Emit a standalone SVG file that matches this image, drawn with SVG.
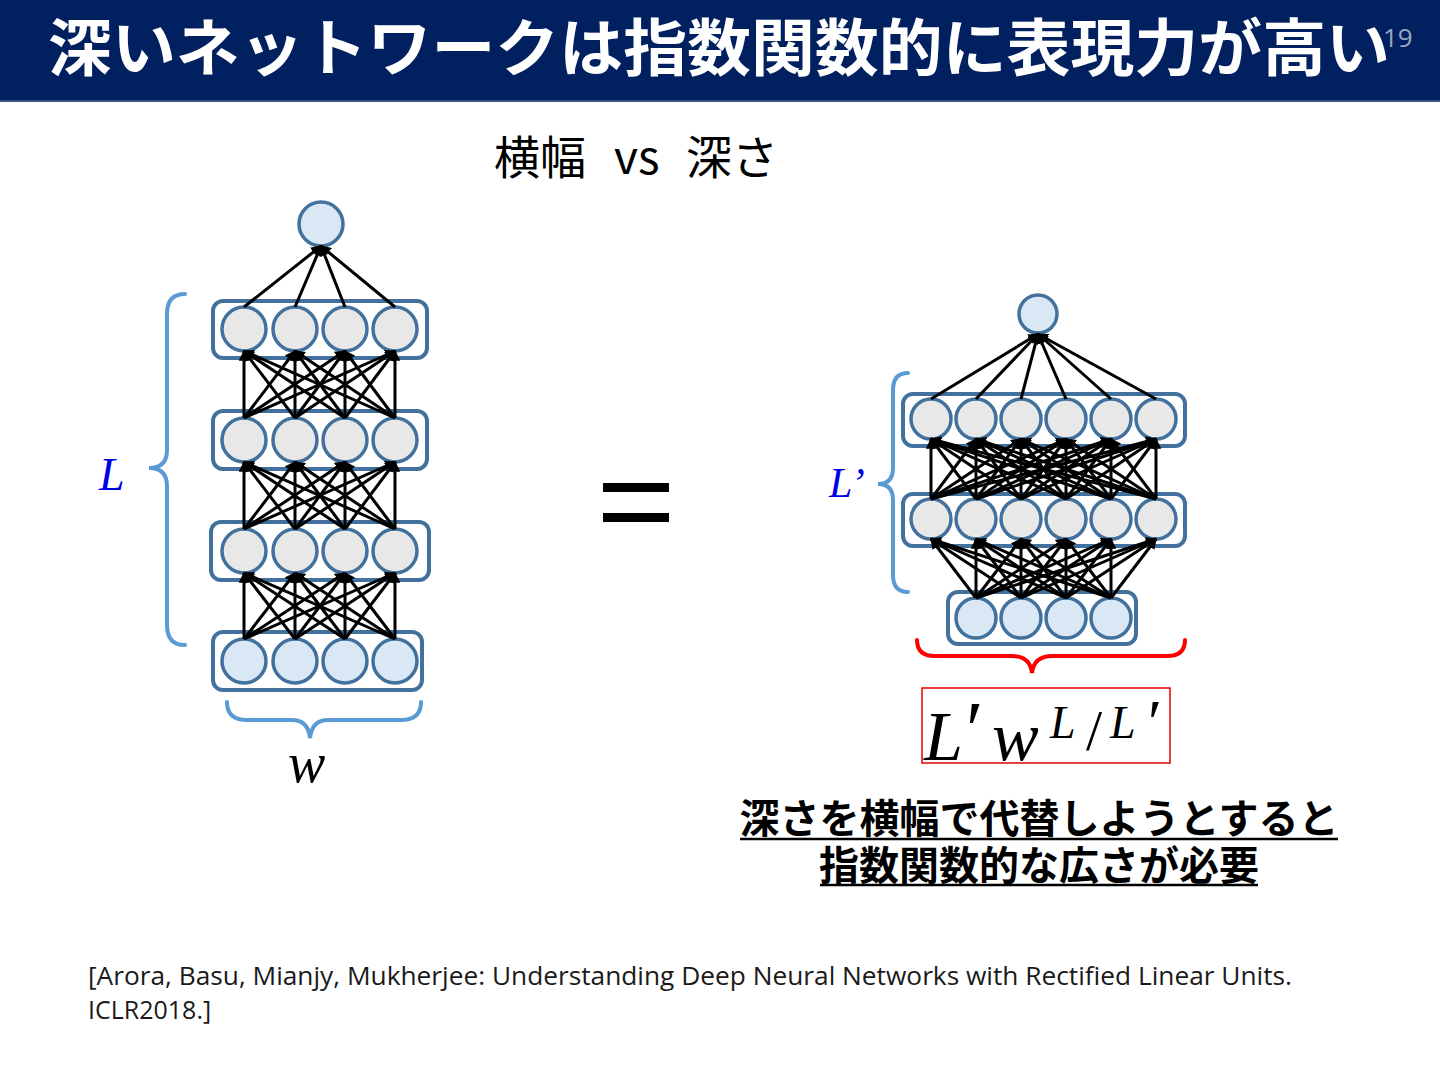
<svg xmlns="http://www.w3.org/2000/svg" width="1440" height="1080" viewBox="0 0 1440 1080">
<defs>
<marker id="arr" viewBox="0 0 10 10" refX="9" refY="5" markerWidth="3.6" markerHeight="3.6" orient="auto" markerUnits="strokeWidth"><path d="M0,0 L10,5 L0,10 z" fill="#000"/></marker>
<style>
.box{fill:#fff;stroke:#41719C;stroke-width:4}
.hid{fill:#E8E8E8;stroke:#41719C;stroke-width:3.5}
.inp{fill:#DAE7F5;stroke:#41719C;stroke-width:3.5}
.e line{stroke:#000;stroke-width:3;marker-end:url(#arr)}
.brace{fill:none;stroke:#5B9BD5;stroke-width:4;stroke-linecap:round}
.math{font-family:"Liberation Serif","DejaVu Serif",serif;font-style:italic}
.jp{font-family:"Noto Sans CJK JP","Noto Sans",sans-serif}
</style>
</defs>
<rect x="0" y="0" width="1440" height="1080" fill="#fff"/>
<g id="title">
<rect x="0" y="0" width="1440" height="102" fill="#00205F"/>
<rect x="0" y="100" width="1440" height="2" fill="#3A5585"/>
<text x="48" y="71" class="jp" font-size="62" font-weight="bold" fill="#fff" textLength="1342" lengthAdjust="spacingAndGlyphs">深いネットワークは指数関数的に表現力が高い</text>
<text x="1383" y="47" font-family="'Open Sans','Noto Sans',sans-serif" font-size="26" fill="#9AA6C0">19</text>
</g>
<g id="subtitle" class="jp" font-size="46" fill="#000">
<text x="494" y="174">横幅</text>
<text x="614" y="174">vs</text>
<text x="686" y="174">深さ</text>
</g>
<!-- left network -->
<g id="left-output"><circle class="inp" cx="321" cy="224" r="22"/></g>
<g id="left-layer1"><rect class="box" x="213" y="301" width="214" height="57" rx="10"/>
<circle class="hid" cx="244" cy="329" r="22"/><circle class="hid" cx="295" cy="329" r="22"/><circle class="hid" cx="345" cy="329" r="22"/><circle class="hid" cx="395" cy="329" r="22"/></g>
<g id="left-layer2"><rect class="box" x="213" y="411" width="214" height="58" rx="10"/>
<circle class="hid" cx="244" cy="440" r="22"/><circle class="hid" cx="295" cy="440" r="22"/><circle class="hid" cx="345" cy="440" r="22"/><circle class="hid" cx="395" cy="440" r="22"/></g>
<g id="left-layer3"><rect class="box" x="211" y="522" width="218" height="58" rx="10"/>
<circle class="hid" cx="244" cy="551" r="22"/><circle class="hid" cx="295" cy="551" r="22"/><circle class="hid" cx="345" cy="551" r="22"/><circle class="hid" cx="395" cy="551" r="22"/></g>
<g id="left-input"><rect class="box" x="213" y="632" width="209" height="58" rx="10"/>
<circle class="inp" cx="244" cy="661" r="22"/><circle class="inp" cx="295" cy="661" r="22"/><circle class="inp" cx="345" cy="661" r="22"/><circle class="inp" cx="395" cy="661" r="22"/></g>
<!-- right network -->
<g id="right-output"><circle class="inp" cx="1038" cy="314" r="19"/></g>
<g id="right-layerA"><rect class="box" x="903" y="394" width="282" height="52" rx="10"/>
<circle class="hid" cx="931" cy="419" r="20"/><circle class="hid" cx="976" cy="419" r="20"/><circle class="hid" cx="1021" cy="419" r="20"/><circle class="hid" cx="1066" cy="419" r="20"/><circle class="hid" cx="1111" cy="419" r="20"/><circle class="hid" cx="1156" cy="419" r="20"/></g>
<g id="right-layerB"><rect class="box" x="903" y="494" width="282" height="52" rx="10"/>
<circle class="hid" cx="931" cy="519" r="20"/><circle class="hid" cx="976" cy="519" r="20"/><circle class="hid" cx="1021" cy="519" r="20"/><circle class="hid" cx="1066" cy="519" r="20"/><circle class="hid" cx="1111" cy="519" r="20"/><circle class="hid" cx="1156" cy="519" r="20"/></g>
<g id="right-input"><rect class="box" x="948" y="592" width="188" height="52" rx="10"/>
<circle class="inp" cx="976" cy="618" r="20"/><circle class="inp" cx="1021" cy="618" r="20"/><circle class="inp" cx="1066" cy="618" r="20"/><circle class="inp" cx="1111" cy="618" r="20"/></g>
<g id="connectors" class="e">
<!-- left L4->L3 -->
<line x1="244" y1="639" x2="244" y2="573"/><line x1="244" y1="639" x2="295" y2="573"/><line x1="244" y1="639" x2="345" y2="573"/><line x1="244" y1="639" x2="395" y2="573"/>
<line x1="295" y1="639" x2="244" y2="573"/><line x1="295" y1="639" x2="295" y2="573"/><line x1="295" y1="639" x2="345" y2="573"/><line x1="295" y1="639" x2="395" y2="573"/>
<line x1="345" y1="639" x2="244" y2="573"/><line x1="345" y1="639" x2="295" y2="573"/><line x1="345" y1="639" x2="345" y2="573"/><line x1="345" y1="639" x2="395" y2="573"/>
<line x1="395" y1="639" x2="244" y2="573"/><line x1="395" y1="639" x2="295" y2="573"/><line x1="395" y1="639" x2="345" y2="573"/><line x1="395" y1="639" x2="395" y2="573"/>
<!-- left L3->L2 -->
<line x1="244" y1="529" x2="244" y2="462"/><line x1="244" y1="529" x2="295" y2="462"/><line x1="244" y1="529" x2="345" y2="462"/><line x1="244" y1="529" x2="395" y2="462"/>
<line x1="295" y1="529" x2="244" y2="462"/><line x1="295" y1="529" x2="295" y2="462"/><line x1="295" y1="529" x2="345" y2="462"/><line x1="295" y1="529" x2="395" y2="462"/>
<line x1="345" y1="529" x2="244" y2="462"/><line x1="345" y1="529" x2="295" y2="462"/><line x1="345" y1="529" x2="345" y2="462"/><line x1="345" y1="529" x2="395" y2="462"/>
<line x1="395" y1="529" x2="244" y2="462"/><line x1="395" y1="529" x2="295" y2="462"/><line x1="395" y1="529" x2="345" y2="462"/><line x1="395" y1="529" x2="395" y2="462"/>
<!-- left L2->L1 -->
<line x1="244" y1="418" x2="244" y2="351"/><line x1="244" y1="418" x2="295" y2="351"/><line x1="244" y1="418" x2="345" y2="351"/><line x1="244" y1="418" x2="395" y2="351"/>
<line x1="295" y1="418" x2="244" y2="351"/><line x1="295" y1="418" x2="295" y2="351"/><line x1="295" y1="418" x2="345" y2="351"/><line x1="295" y1="418" x2="395" y2="351"/>
<line x1="345" y1="418" x2="244" y2="351"/><line x1="345" y1="418" x2="295" y2="351"/><line x1="345" y1="418" x2="345" y2="351"/><line x1="345" y1="418" x2="395" y2="351"/>
<line x1="395" y1="418" x2="244" y2="351"/><line x1="395" y1="418" x2="295" y2="351"/><line x1="395" y1="418" x2="345" y2="351"/><line x1="395" y1="418" x2="395" y2="351"/>
<!-- left L1->out -->
<line x1="244" y1="307" x2="321" y2="246"/><line x1="295" y1="307" x2="321" y2="246"/><line x1="345" y1="307" x2="321" y2="246"/><line x1="395" y1="307" x2="321" y2="246"/>
<!-- right input->B -->
<line x1="976" y1="598" x2="931" y2="539"/><line x1="976" y1="598" x2="976" y2="539"/><line x1="976" y1="598" x2="1021" y2="539"/><line x1="976" y1="598" x2="1066" y2="539"/><line x1="976" y1="598" x2="1111" y2="539"/><line x1="976" y1="598" x2="1156" y2="539"/>
<line x1="1021" y1="598" x2="931" y2="539"/><line x1="1021" y1="598" x2="976" y2="539"/><line x1="1021" y1="598" x2="1021" y2="539"/><line x1="1021" y1="598" x2="1066" y2="539"/><line x1="1021" y1="598" x2="1111" y2="539"/><line x1="1021" y1="598" x2="1156" y2="539"/>
<line x1="1066" y1="598" x2="931" y2="539"/><line x1="1066" y1="598" x2="976" y2="539"/><line x1="1066" y1="598" x2="1021" y2="539"/><line x1="1066" y1="598" x2="1066" y2="539"/><line x1="1066" y1="598" x2="1111" y2="539"/><line x1="1066" y1="598" x2="1156" y2="539"/>
<line x1="1111" y1="598" x2="931" y2="539"/><line x1="1111" y1="598" x2="976" y2="539"/><line x1="1111" y1="598" x2="1021" y2="539"/><line x1="1111" y1="598" x2="1066" y2="539"/><line x1="1111" y1="598" x2="1111" y2="539"/><line x1="1111" y1="598" x2="1156" y2="539"/>
<!-- right B->A -->
<line x1="931" y1="499" x2="931" y2="439"/><line x1="931" y1="499" x2="976" y2="439"/><line x1="931" y1="499" x2="1021" y2="439"/><line x1="931" y1="499" x2="1066" y2="439"/><line x1="931" y1="499" x2="1111" y2="439"/><line x1="931" y1="499" x2="1156" y2="439"/>
<line x1="976" y1="499" x2="931" y2="439"/><line x1="976" y1="499" x2="976" y2="439"/><line x1="976" y1="499" x2="1021" y2="439"/><line x1="976" y1="499" x2="1066" y2="439"/><line x1="976" y1="499" x2="1111" y2="439"/><line x1="976" y1="499" x2="1156" y2="439"/>
<line x1="1021" y1="499" x2="931" y2="439"/><line x1="1021" y1="499" x2="976" y2="439"/><line x1="1021" y1="499" x2="1021" y2="439"/><line x1="1021" y1="499" x2="1066" y2="439"/><line x1="1021" y1="499" x2="1111" y2="439"/><line x1="1021" y1="499" x2="1156" y2="439"/>
<line x1="1066" y1="499" x2="931" y2="439"/><line x1="1066" y1="499" x2="976" y2="439"/><line x1="1066" y1="499" x2="1021" y2="439"/><line x1="1066" y1="499" x2="1066" y2="439"/><line x1="1066" y1="499" x2="1111" y2="439"/><line x1="1066" y1="499" x2="1156" y2="439"/>
<line x1="1111" y1="499" x2="931" y2="439"/><line x1="1111" y1="499" x2="976" y2="439"/><line x1="1111" y1="499" x2="1021" y2="439"/><line x1="1111" y1="499" x2="1066" y2="439"/><line x1="1111" y1="499" x2="1111" y2="439"/><line x1="1111" y1="499" x2="1156" y2="439"/>
<line x1="1156" y1="499" x2="931" y2="439"/><line x1="1156" y1="499" x2="976" y2="439"/><line x1="1156" y1="499" x2="1021" y2="439"/><line x1="1156" y1="499" x2="1066" y2="439"/><line x1="1156" y1="499" x2="1111" y2="439"/><line x1="1156" y1="499" x2="1156" y2="439"/>
<!-- right A->out -->
<line x1="931" y1="399" x2="1038" y2="334"/><line x1="976" y1="399" x2="1038" y2="334"/><line x1="1021" y1="399" x2="1038" y2="334"/><line x1="1066" y1="399" x2="1038" y2="334"/><line x1="1111" y1="399" x2="1038" y2="334"/><line x1="1156" y1="399" x2="1038" y2="334"/>
</g>
<g id="brace-L">
<path class="brace" d="M185,294 Q167,294 167,314 L167,450 Q167,468 149,468 Q167,468 167,486 L167,625 Q167,645 185,645"/>
<text x="99" y="490" class="math" font-size="46" fill="#0000E6">L</text>
</g>
<g id="brace-w">
<path class="brace" d="M227,702 Q227,720 247,720 L292,720 Q308,720 310,738 Q312,720 328,720 L401,720 Q421,720 421,702"/>
<text x="288" y="782" class="math" font-size="56" fill="#000">w</text>
</g>
<g id="equals" fill="#000">
<rect x="603" y="483" width="66" height="9"/>
<rect x="603" y="513" width="66" height="9"/>
</g>
<g id="brace-Lp">
<path class="brace" d="M908,373 Q893,373 893,390 L893,468 Q893,484 878,484 Q893,484 893,500 L893,575 Q893,592 908,592"/>
<text x="829" y="497" class="math" font-size="42" fill="#0000E6">L’</text>
</g>
<g id="brace-red">
<path d="M917,640 Q917,656 935,656 L1012,656 Q1030,656 1032,673 Q1034,656 1052,656 L1167,656 Q1185,656 1185,640" fill="none" stroke="#FF0000" stroke-width="4" stroke-linecap="round"/>
</g>
<g id="formula">
<rect x="922" y="688" width="248" height="75" fill="none" stroke="#E00000" stroke-width="1.5"/>
<text class="math" fill="#000"><tspan x="924" y="760" font-size="70">L</tspan><tspan x="966" y="757" font-size="80" font-style="normal">′</tspan><tspan x="992" y="760" font-size="70">w</tspan><tspan x="1050" y="738" font-size="46">L</tspan><tspan x="1086" y="750" font-size="58" font-style="normal">/</tspan><tspan x="1110" y="738" font-size="46">L</tspan><tspan x="1148" y="744" font-size="64" font-style="normal">′</tspan></text>
</g>
<g id="conclusion" class="jp" font-size="40" font-weight="bold" fill="#000" text-anchor="middle">
<text><tspan x="1039" y="833">深さを横幅で代替しようとすると</tspan><tspan x="1039" y="880">指数関数的な広さが必要</tspan></text>
<line x1="740" y1="839" x2="1338" y2="839" stroke="#000" stroke-width="2.5"/>
<line x1="820" y1="885" x2="1258" y2="885" stroke="#000" stroke-width="2.5"/>
</g>
<g id="citation" font-family="'Open Sans','Noto Sans',sans-serif" font-size="25" fill="#1a1a1a">
<text x="88" y="985" textLength="1204" lengthAdjust="spacingAndGlyphs">[Arora, Basu, Mianjy, Mukherjee: Understanding Deep Neural Networks with Rectified Linear Units.</text>
<text x="88" y="1019">ICLR2018.]</text>
</g>
</svg>
